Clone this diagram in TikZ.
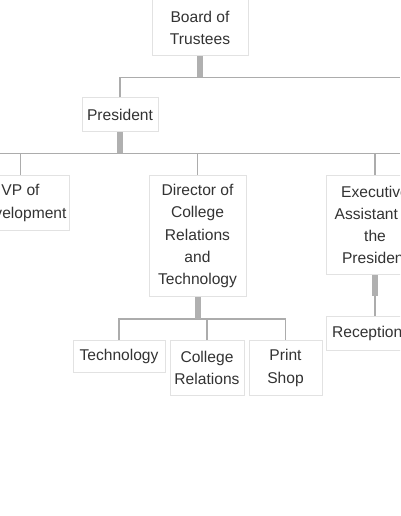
\documentclass[tikz,border=0pt]{standalone}
\usepackage{fontspec}
\setmainfont{Liberation Sans}
\usepackage{tikz}
\usetikzlibrary{positioning, calc}
\definecolor{ORGink}{RGB}{51, 51, 51}
\definecolor{ORGedge}{RGB}{226, 226, 226}
\definecolor{ORGstem}{RGB}{176, 176, 176}
\definecolor{ORGwire}{RGB}{172, 172, 172}
\tikzset{
  unit/.style={rectangle, draw=ORGedge, line width=0.75pt, fill=white, text=ORGink,
    align=center, inner sep=0pt, font=\fontsize{11.7}{16.7}\selectfont},
  stem/.style={line width=4.5pt, ORGstem},
  wire/.style={line width=1.1pt, ORGwire},
}

\begin{document}
\begin{tikzpicture}[x=0.75pt, y=-0.75pt]
    \path[use as bounding box, fill=white] (0,0) rectangle (400,516);
    \clip (0,0) rectangle (400,516);
    \coordinate (lim) at (0,0);
    \coordinate (rim) at (400,0);
    % top of the chart
    \node[unit, minimum width=72pt, minimum height=42pt] (board) at (200,28) {Board of\\Trustees};
    \node[unit, minimum width=57pt, minimum height=25.5pt] (pres) at (120,115) {President};
    % reports of the president
    \node[unit, anchor=north, minimum width=72.75pt, minimum height=41.25pt] (vp) at (20.5,175) {VP of\\Development};
    \node[unit, anchor=north, minimum width=72.75pt, minimum height=90.75pt] (dir) at (197.5,175) {Director of\\College\\Relations\\and\\Technology};
    \node[unit, anchor=north, minimum width=73.5pt, minimum height=74.25pt] (exec) at (375,175) {Executive\\Assistant to\\the\\President};
    \node[unit, anchor=north, minimum width=73.5pt, minimum height=25.5pt] (recep) at (375,316) {Receptionist};
    % offices under the director
    \node[unit, anchor=north, minimum width=69pt, minimum height=24pt] (tech) at (119,340) {Technology};
    \node[unit, anchor=north, minimum width=55.5pt, minimum height=41.25pt] (coll) at (207,340) {College\\Relations};
    \node[unit, anchor=north, minimum width=54.75pt, minimum height=41.25pt] (print) at (285.5,340) {Print\\Shop};
    \coordinate (boardbus) at ($(board.south)+(0,21)$);
    \coordinate (presbus) at ($(pres.south)+(0,21)$);
    \coordinate (dirbus) at ($(dir.south)+(0,22)$);
    \coordinate (execbus) at ($(exec.south)+(0,21)$);
    \draw[wire] (pres.north) |- (boardbus) -- (boardbus -| rim);
    \draw[wire] (presbus -| lim) -- (presbus -| rim);
    \foreach \n in {vp, dir, exec} \draw[wire] (\n.north) -- (presbus -| \n.north);
    \draw[wire] (tech.north) |- (dirbus) -| (print.north);
    \draw[wire] (coll.north) -- (dirbus -| coll.north);
    \draw[wire] (recep.north) -- (execbus);
    \draw[stem] (board.south) -- (boardbus); \draw[stem] (pres.south) -- (presbus);
    \draw[stem] (dir.south) -- (dirbus -| dir.south); \draw[stem] (exec.south) -- (execbus);
  \end{tikzpicture}
\end{document}
